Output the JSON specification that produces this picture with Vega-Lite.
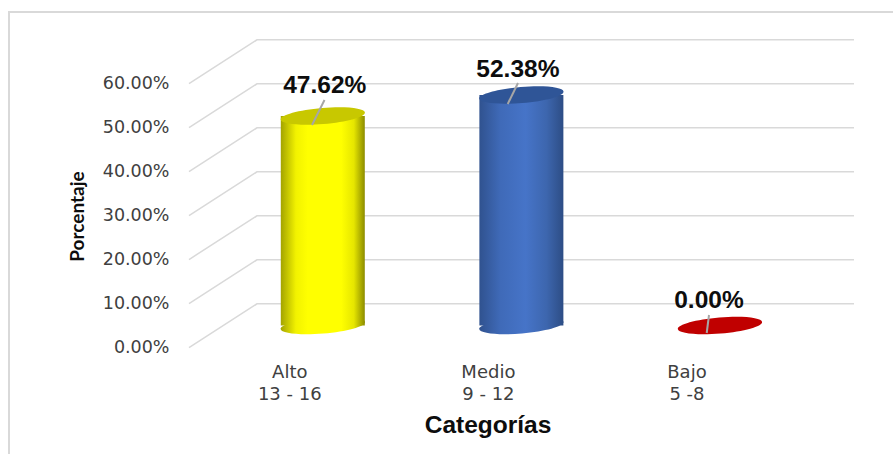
{
  "$schema": "https://vega.github.io/schema/vega-lite/v6.json",
  "width": 893,
  "height": 454,
  "padding": 0,
  "autosize": {"type": "none"},
  "background": "white",
  "view": {"stroke": null},
  "datasets": {
    "niveles": [
      {"categoria": "Alto|13 - 16", "porcentaje": 0.4762},
      {"categoria": "Medio|9 - 12", "porcentaje": 0.5238},
      {"categoria": "Bajo|5 -8", "porcentaje": 0.0}
    ],
    "reticula": [
      {"linea": "0", "pos": 0.3283, "v": 0.0},
      {"linea": "0", "pos": 0.6704, "v": 0.0993},
      {"linea": "0", "pos": 3.6742, "v": 0.0993},
      {"linea": "10", "pos": 0.3283, "v": 0.1},
      {"linea": "10", "pos": 0.6704, "v": 0.1993},
      {"linea": "10", "pos": 3.6742, "v": 0.1993},
      {"linea": "20", "pos": 0.3283, "v": 0.2},
      {"linea": "20", "pos": 0.6704, "v": 0.2993},
      {"linea": "20", "pos": 3.6742, "v": 0.2993},
      {"linea": "30", "pos": 0.3283, "v": 0.3},
      {"linea": "30", "pos": 0.6704, "v": 0.3993},
      {"linea": "30", "pos": 3.6742, "v": 0.3993},
      {"linea": "40", "pos": 0.3283, "v": 0.4},
      {"linea": "40", "pos": 0.6704, "v": 0.4993},
      {"linea": "40", "pos": 3.6742, "v": 0.4993},
      {"linea": "50", "pos": 0.3283, "v": 0.5},
      {"linea": "50", "pos": 0.6704, "v": 0.5993},
      {"linea": "50", "pos": 3.6742, "v": 0.5993},
      {"linea": "60", "pos": 0.3283, "v": 0.6},
      {"linea": "60", "pos": 0.6704, "v": 0.6993},
      {"linea": "60", "pos": 3.6742, "v": 0.6993}
    ],
    "marco": [
      {"pos": -0.5774, "v": -0.242},
      {"pos": -0.5774, "v": 0.7625},
      {"pos": 3.8704, "v": 0.7625}
    ],
    "guias": [
      {"guia": "Alto", "pos": 0.9472, "v": 0.5057},
      {"guia": "Alto", "pos": 1.0101, "v": 0.5625},
      {"guia": "Medio", "pos": 1.9318, "v": 0.5534},
      {"guia": "Medio", "pos": 1.9836, "v": 0.6011},
      {"guia": "Bajo", "pos": 2.9331, "v": 0.033},
      {"guia": "Bajo", "pos": 2.9447, "v": 0.0739}
    ]
  },
  "resolve": {"scale": {"x": "independent"}},
  "layer": [
    {
      "data": {"name": "marco"},
      "mark": {"type": "line", "color": "#d9d9d9", "strokeWidth": 2},
      "encoding": {
        "x": {"field": "pos", "type": "quantitative", "axis": null, "scale": {"domain": [-0.6226, 3.8704], "nice": false, "zero": false}},
        "y": {"field": "v", "type": "quantitative", "sort": null, "scale": {"domain": [-0.242, 0.7898], "nice": false, "zero": false}},
        "order": {"field": "pos"}
      }
    },
    {
      "data": {"name": "reticula"},
      "mark": {"type": "line", "color": "#d9d9d9", "strokeWidth": 1.5},
      "encoding": {
        "x": {"field": "pos", "type": "quantitative", "axis": null, "scale": {"domain": [-0.6226, 3.8704], "nice": false, "zero": false}},
        "y": {"field": "v", "type": "quantitative"},
        "detail": {"field": "linea"}
      }
    },
    {
      "data": {"name": "niveles"},
      "encoding": {
        "x": {
          "field": "categoria",
          "type": "nominal",
          "sort": null,
          "scale": {"range": [223.5, 819.25], "paddingInner": 0, "paddingOuter": 0},
          "axis": {
            "orient": "bottom",
            "offset": -97,
            "title": "Categorías",
            "titleFont": "Liberation Sans",
            "titleFontWeight": "bold",
            "titleFontSize": 24.5,
            "titleColor": "#0d0d0d",
            "titleX": 487.5,
            "titleY": 56,
            "domain": false,
            "ticks": false,
            "grid": false,
            "labelAngle": 0,
            "labelOffset": -33,
            "labelPadding": 6,
            "labelFont": "DejaVu Sans",
            "labelFontSize": 18,
            "labelColor": "#404040",
            "labelLineHeight": 22,
            "labelExpr": "split(datum.label, '|')"
          }
        },
        "y": {
          "field": "porcentaje",
          "type": "quantitative",
          "axis": {
            "orient": "left",
            "offset": -169,
            "title": "Porcentaje",
            "titleFont": "Lato",
            "titleFontWeight": "bold",
            "titleFontSize": 19,
            "titleColor": "#0d0d0d",
            "titleX": -82,
            "titleY": 216,
            "domain": false,
            "ticks": false,
            "grid": false,
            "labelPadding": 0,
            "labelFont": "DejaVu Sans",
            "labelFontSize": 17.5,
            "labelColor": "#404040",
            "format": ".2%",
            "values": [0, 0.1, 0.2, 0.3, 0.4, 0.5, 0.6]
          }
        }
      },
      "layer": [
        {
          "transform": [{"filter": "datum.porcentaje > 0 && datum.porcentaje < 0.5"}],
          "mark": {
            "type": "point",
            "filled": true,
            "opacity": 1,
            "size": 7157,
            "yOffset": -22,
            "shape": "M-0.9965,0.0837 A1,0.19,-4.8,1,1,0.9965,-0.0837 A1,0.19,-4.8,1,1,-0.9965,0.0837 Z",
            "color": {"gradient": "linear", "x1": 0, "x2": 1, "y1": 0, "y2": 0, "stops": [
              {"offset": 0, "color": "#a3a300"},
              {"offset": 0.18, "color": "#f2f200"},
              {"offset": 0.32, "color": "#ffff00"},
              {"offset": 0.72, "color": "#ffff00"},
              {"offset": 0.87, "color": "#e6e600"},
              {"offset": 1, "color": "#8c8c00"}
            ]}
          },
          "encoding": {"y": {"datum": 0, "type": "quantitative"}}
        },
        {
          "transform": [{"filter": "datum.porcentaje >= 0.5"}],
          "mark": {
            "type": "point",
            "filled": true,
            "opacity": 1,
            "size": 7157,
            "yOffset": -22,
            "shape": "M-0.9965,0.0837 A1,0.19,-4.8,1,1,0.9965,-0.0837 A1,0.19,-4.8,1,1,-0.9965,0.0837 Z",
            "color": {"gradient": "linear", "x1": 0, "x2": 1, "y1": 0, "y2": 0, "stops": [
              {"offset": 0, "color": "#30528f"},
              {"offset": 0.25, "color": "#3f6ab8"},
              {"offset": 0.55, "color": "#4674c8"},
              {"offset": 0.8, "color": "#3d66ae"},
              {"offset": 1, "color": "#2d4d85"}
            ]}
          },
          "encoding": {"y": {"datum": 0, "type": "quantitative"}}
        },
        {
          "transform": [{"filter": "datum.porcentaje > 0 && datum.porcentaje < 0.5"}],
          "mark": {
            "type": "bar",
            "width": 84,
            "yOffset": -22,
            "y2Offset": -22,
            "color": {"gradient": "linear", "x1": 0, "x2": 1, "y1": 0, "y2": 0, "stops": [
              {"offset": 0, "color": "#a3a300"},
              {"offset": 0.18, "color": "#f2f200"},
              {"offset": 0.32, "color": "#ffff00"},
              {"offset": 0.72, "color": "#ffff00"},
              {"offset": 0.87, "color": "#e6e600"},
              {"offset": 1, "color": "#8c8c00"}
            ]}
          },
          "encoding": {"y2": {"datum": 0}}
        },
        {
          "transform": [{"filter": "datum.porcentaje >= 0.5"}],
          "mark": {
            "type": "bar",
            "width": 84,
            "yOffset": -22,
            "y2Offset": -22,
            "color": {"gradient": "linear", "x1": 0, "x2": 1, "y1": 0, "y2": 0, "stops": [
              {"offset": 0, "color": "#30528f"},
              {"offset": 0.25, "color": "#3f6ab8"},
              {"offset": 0.55, "color": "#4674c8"},
              {"offset": 0.8, "color": "#3d66ae"},
              {"offset": 1, "color": "#2d4d85"}
            ]}
          },
          "encoding": {"y2": {"datum": 0}}
        },
        {
          "mark": {
            "type": "point",
            "filled": true,
            "opacity": 1,
            "size": 7157,
            "yOffset": -22,
            "shape": "M-0.9965,0.0837 A1,0.19,-4.8,1,1,0.9965,-0.0837 A1,0.19,-4.8,1,1,-0.9965,0.0837 Z"
          },
          "encoding": {
            "color": {
              "field": "categoria",
              "type": "nominal",
              "legend": null,
              "scale": {"domain": ["Alto|13 - 16", "Medio|9 - 12", "Bajo|5 -8"], "range": ["#c8c800", "#2f5597", "#c00000"]}
            }
          }
        },
        {
          "transform": [{"filter": "datum.porcentaje > 0 && datum.porcentaje < 0.5"}],
          "mark": {"type": "text", "font": "Liberation Sans", "fontWeight": "bold", "fontSize": 24.5, "color": "#0d0d0d", "dx": 2, "dy": -52},
          "encoding": {"text": {"field": "porcentaje", "format": ".2%"}}
        },
        {
          "transform": [{"filter": "datum.porcentaje >= 0.5"}],
          "mark": {"type": "text", "font": "Liberation Sans", "fontWeight": "bold", "fontSize": 24.5, "color": "#0d0d0d", "dx": -3.5, "dy": -47},
          "encoding": {"text": {"field": "porcentaje", "format": ".2%"}}
        },
        {
          "transform": [{"filter": "datum.porcentaje == 0"}],
          "mark": {"type": "text", "font": "Liberation Sans", "fontWeight": "bold", "fontSize": 24.5, "color": "#0d0d0d", "dx": -11, "dy": -46.5},
          "encoding": {"text": {"field": "porcentaje", "format": ".2%"}}
        }
      ]
    },
    {
      "data": {"name": "guias"},
      "mark": {"type": "line", "color": "#a6a6a6", "strokeWidth": 2},
      "encoding": {
        "x": {"field": "pos", "type": "quantitative", "axis": null, "scale": {"domain": [-0.6226, 3.8704], "nice": false, "zero": false}},
        "y": {"field": "v", "type": "quantitative"},
        "detail": {"field": "guia"}
      }
    }
  ]
}
